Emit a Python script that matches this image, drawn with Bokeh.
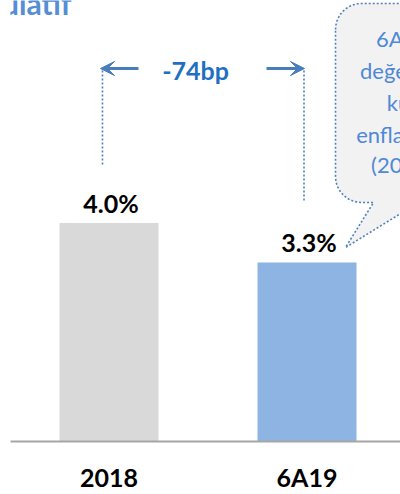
import math
from bokeh.plotting import figure
from bokeh.models import Range1d, LinearAxis, FixedTicker, Arrow, VeeHead
from bokeh.core.properties import value
from bokeh.embed import file_html
from bokeh.resources import INLINE

# ---- data ----
categories = ["2018", "6A19"]
values = [4.0, 3.28]
value_labels = ["4.0%", "3.3%"]
bar_colors = ["#d9d9d9", "#8eb4e3"]
change_label = "-74bp"
title_text = "Kümülatif"
callout_lines = ["6A19", "değerleri", "kur", "enflasyon", "(2019)"]

FONT = "Lato"
W, H = 400, 494
FL, FW, FH = 10, 390, 441          # frame left / width / height in px
x0, x1 = -0.4975, 1.4722
y0, y1 = 0.0, 8.077

def dx(px):
    return x0 + (px - FL) / FW * (x1 - x0)

def dy(py):
    return y1 - py / FH * (y1 - y0)

p = figure(width=W, height=H, output_backend="svg", toolbar_location=None,
           x_range=Range1d(x0, x1), y_range=Range1d(y0, y1),
           x_axis_type=None, y_axis_type=None,
           min_border_left=FL, min_border_right=0, min_border_top=0,
           min_border_bottom=H - FH)
p.outline_line_color = None
p.grid.visible = False
p.background_fill_color = "white"
p.border_fill_color = "white"

xs = list(range(len(categories)))

# callout bubble (drawn in pixel layout, converted to data)
r = 26
L, T, R, B = 335, 3, 480, 202
pts = []
for k in range(0, 11):
    a = math.pi + k * (math.pi / 2) / 10
    pts.append((L + r + r * math.cos(a), T + r + r * math.sin(a)))
pts += [(R, T), (R, B), (418, B), (345, 247), (373, B)]
for k in range(0, 11):
    a = math.pi / 2 + k * (math.pi / 2) / 10
    pts.append((L + r + r * math.cos(a), B - r + r * math.sin(a)))
p.patch([dx(a) for a, b in pts], [dy(b) for a, b in pts],
        fill_color="#f2f2f2", line_color="#4f81bd", line_width=1.6,
        line_dash="2 2")

line_y = [38, 70, 102, 134, 164]
p.text(x=[dx(402)] * len(callout_lines), y=[dy(v) for v in line_y],
       text=callout_lines, text_align="center", text_baseline="middle",
       text_font=value(FONT), text_font_size="22px", text_color="#4f89d6")

# title (cropped at top)
p.text(x=[dx(71)], y=[dy(2)], text=[title_text], text_align="right",
       text_baseline="middle", text_font=value(FONT), text_font_size="30px",
       text_font_style="bold", text_color="#558ed5")

# bars
p.vbar(x=xs, top=values, width=0.5, fill_color=bar_colors, line_color=None)

# value labels
p.text(x=xs, y=values, text=value_labels, text_align="center",
       text_baseline="middle", y_offset=-20, x_offset=2,
       text_font=value(FONT), text_font_size="25px", text_font_style="bold",
       text_color="#000000")

# guides
p.segment(x0=[dx(102), dx(303.5)], y0=[dy(70), dy(70)],
          x1=[dx(102), dx(303.5)], y1=[dy(165), dy(200)],
          line_color="#4f81bd", line_width=1.6, line_dash="2 2")

for xs_, xe_ in [(138, 100), (266, 304)]:
    p.add_layout(Arrow(x_start=dx(xs_), y_start=dy(68), x_end=dx(xe_), y_end=dy(68),
                       line_color="#4a7ebb", line_width=3,
                       end=VeeHead(size=14, line_color="#4a7ebb", fill_color="#4a7ebb",
                                   line_width=1)))

p.text(x=[dx(195)], y=[dy(69)], text=[change_label], text_align="center",
       text_baseline="middle", text_font=value(FONT), text_font_size="25px",
       text_font_style="bold", text_color="#1f6fc2")

# category axis
ax = LinearAxis(ticker=FixedTicker(ticks=xs),
                major_label_overrides={i: c for i, c in enumerate(categories)})
ax.axis_line_color = "#a6a6a6"
ax.axis_line_width = 2
ax.major_tick_line_color = None
ax.minor_tick_line_color = None
ax.major_tick_out = 0
ax.major_tick_in = 0
ax.major_label_standoff = 20
ax.major_label_text_font = FONT
ax.major_label_text_font_size = "25px"
ax.major_label_text_font_style = "bold"
ax.major_label_text_color = "#000000"
p.add_layout(ax, "below")

open("out.html", "w").write(file_html(p, INLINE))
